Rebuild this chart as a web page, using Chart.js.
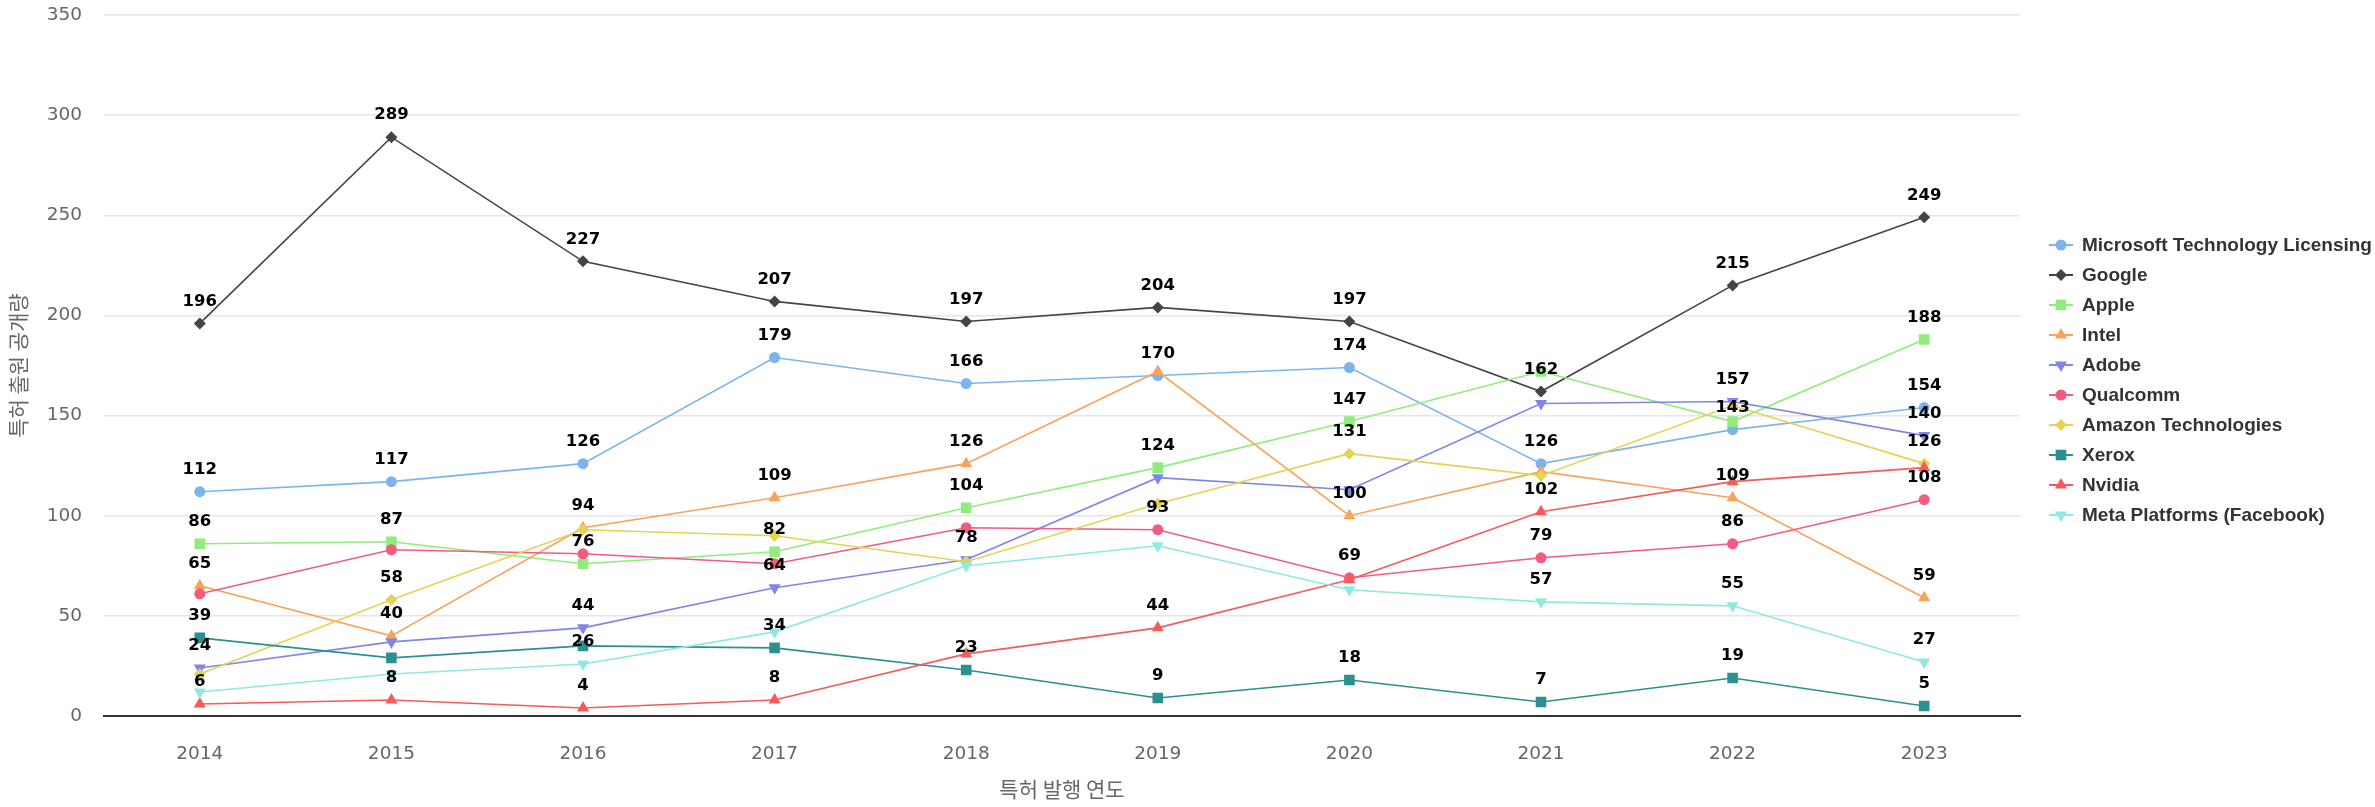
<!DOCTYPE html>
<html lang="ko">
<head>
<meta charset="utf-8">
<title>특허 출원 공개량</title>
<script src="https://cdn.jsdelivr.net/npm/chart.js@4.4.1/dist/chart.umd.min.js"></script>
<style>
  html, body { margin: 0; padding: 0; background: #fff; }
  #chart { display: block; }
</style>
</head>
<body>
<canvas id="chart" width="2375" height="807"></canvas>
<script>
// ---------------------------------------------------------------
// DATA
// ---------------------------------------------------------------
const years = ['2014', '2015', '2016', '2017', '2018', '2019', '2020', '2021', '2022', '2023'];
const yTicks = [0, 50, 100, 150, 200, 250, 300, 350];

const companies = ['Microsoft Technology Licensing', 'Google', 'Apple', 'Intel', 'Adobe',
                   'Qualcomm', 'Amazon Technologies', 'Xerox', 'Nvidia', 'Meta Platforms (Facebook)'];

const microsoft = [112, 117, 126, 179, 166, 170, 174, 126, 143, 154];
const google    = [196, 289, 227, 207, 197, 204, 197, 162, 215, 249];
const apple     = [86, 87, 76, 82, 104, 124, 147, 172, 147, 188];
const intel     = [65, 40, 94, 109, 126, 172, 100, 122, 109, 59];
const adobe     = [24, 37, 44, 64, 78, 119, 113, 156, 157, 140];
const qualcomm  = [61, 83, 81, 76, 94, 93, 69, 79, 86, 108];
const amazon    = [21, 58, 93, 90, 77, 106, 131, 120, 155, 126];
const xerox     = [39, 29, 35, 34, 23, 9, 18, 7, 19, 5];
const nvidia    = [6, 8, 4, 8, 31, 44, 68, 102, 117, 124];
const meta      = [12, 21, 26, 42, 75, 85, 63, 57, 55, 27];

const series = [microsoft, google, apple, intel, adobe, qualcomm, amazon, xerox, nvidia, meta];

// ---------------------------------------------------------------
// STYLES
// ---------------------------------------------------------------
const colors = ['#7cb5ec', '#434348', '#90ed7d', '#f7a35c', '#8085e9',
                '#f15c80', '#e4d354', '#2b908f', '#f45b5b', '#91e8e1'];

// circle, diamond, square, triangle, triangle-down (repeats)
const markers = [
  {style: 'circle', radius: 5.5, rotation: 0},
  {style: 'rectRot', radius: 6, rotation: 0},
  {style: 'rect', radius: 7.5, rotation: 0},
  {style: 'triangle', radius: 7, rotation: 0},
  {style: 'triangle', radius: 7, rotation: 180}
];

const tickFont = {family: '"DejaVu Sans", sans-serif', size: 18.5};
const titleFont = {family: '"Noto Sans CJK KR", sans-serif', size: 21};

// ---------------------------------------------------------------
// plugin: value labels above the points, hiding the ones that collide
// ---------------------------------------------------------------
const pointLabels = {
  id: 'pointLabels',
  afterDatasetsDraw(chart) {
    const ctx = chart.ctx;
    ctx.save();
    ctx.font = 'bold 16.5px "DejaVu Sans", sans-serif';
    ctx.fillStyle = '#000';
    ctx.textAlign = 'center';
    ctx.textBaseline = 'middle';
    years.forEach((year, i) => {
      const taken = [];  // y of the labels already drawn at this year
      chart.data.datasets.forEach((ds, k) => {
        const pt = chart.getDatasetMeta(k).data[i];
        const y = pt.y - 22;
        if (taken.some(t => Math.abs(t - y) < 27)) return;
        taken.push(y);
        ctx.fillText(ds.data[i], pt.x, y);
      });
    });
    ctx.restore();
  }
};

// ---------------------------------------------------------------
// plugin: legend on the right (line + marker + name)
// ---------------------------------------------------------------
const sideLegend = {
  id: 'sideLegend',
  afterDraw(chart) {
    const {ctx, chartArea} = chart;
    const x0 = chartArea.right + 29;
    const y0 = chartArea.top + 230;
    ctx.save();
    chart.data.datasets.forEach((ds, k) => {
      const y = y0 + k * 30;
      ctx.strokeStyle = ds.borderColor;
      ctx.lineWidth = 2;
      ctx.beginPath();
      ctx.moveTo(x0, y);
      ctx.lineTo(x0 + 24, y);
      ctx.stroke();
      ctx.fillStyle = ds.pointBackgroundColor;
      Chart.helpers.drawPoint(ctx, {
        pointStyle: ds.pointStyle, rotation: ds.pointRotation, radius: ds.pointRadius, borderWidth: 0
      }, x0 + 12, y);
      ctx.fillStyle = '#333';
      ctx.font = 'bold 19px "Liberation Sans", sans-serif';
      ctx.textAlign = 'left';
      ctx.textBaseline = 'middle';
      ctx.fillText(ds.label, x0 + 33, y + 1);
    });
    ctx.restore();
  }
};

// ---------------------------------------------------------------
// CHART
// ---------------------------------------------------------------
const datasets = companies.map((name, k) => {
  const m = markers[k % markers.length];
  return {
    label: name,
    data: series[k],
    borderColor: colors[k],
    backgroundColor: colors[k],
    pointBackgroundColor: colors[k],
    pointBorderWidth: 0,
    pointStyle: m.style,
    pointRadius: m.radius,
    pointRotation: m.rotation,
    borderWidth: 1.6,
    tension: 0,
    order: -k   // later series drawn on top
  };
});

new Chart(document.getElementById('chart'), {
  type: 'line',
  data: {labels: years, datasets: datasets},
  options: {
    responsive: false,
    animation: false,
    layout: {padding: {top: 15, right: 355, bottom: 0, left: 0}},
    plugins: {
      legend: {display: false},
      tooltip: {enabled: false}
    },
    scales: {
      x: {
        offset: true,
        grid: {display: false, drawTicks: false},
        border: {color: '#333', width: 2},
        ticks: {color: '#666', font: tickFont, padding: 27, maxRotation: 0},
        title: {display: true, text: '특허 발행 연도', color: '#666', font: titleFont, padding: {top: 0, bottom: 5}},
        afterFit: axis => { axis.height = 91; }
      },
      y: {
        min: 0,
        max: 350,
        afterBuildTicks: axis => { axis.ticks = yTicks.map(v => ({value: v})); },
        // invisible tick marks give the gap between labels and plot
        grid: {color: '#e6e6e6', lineWidth: 1.5, drawTicks: true, tickLength: 22, tickColor: 'rgba(0,0,0,0)'},
        border: {display: false},
        ticks: {color: '#666', font: tickFont, padding: 0},
        title: {display: true, text: '특허 출원 공개량', color: '#666', font: titleFont, padding: {top: 5, bottom: 0}},
        afterFit: axis => { axis.width = 104; }
      }
    }
  },
  plugins: [pointLabels, sideLegend]
});
</script>
</body>
</html>
